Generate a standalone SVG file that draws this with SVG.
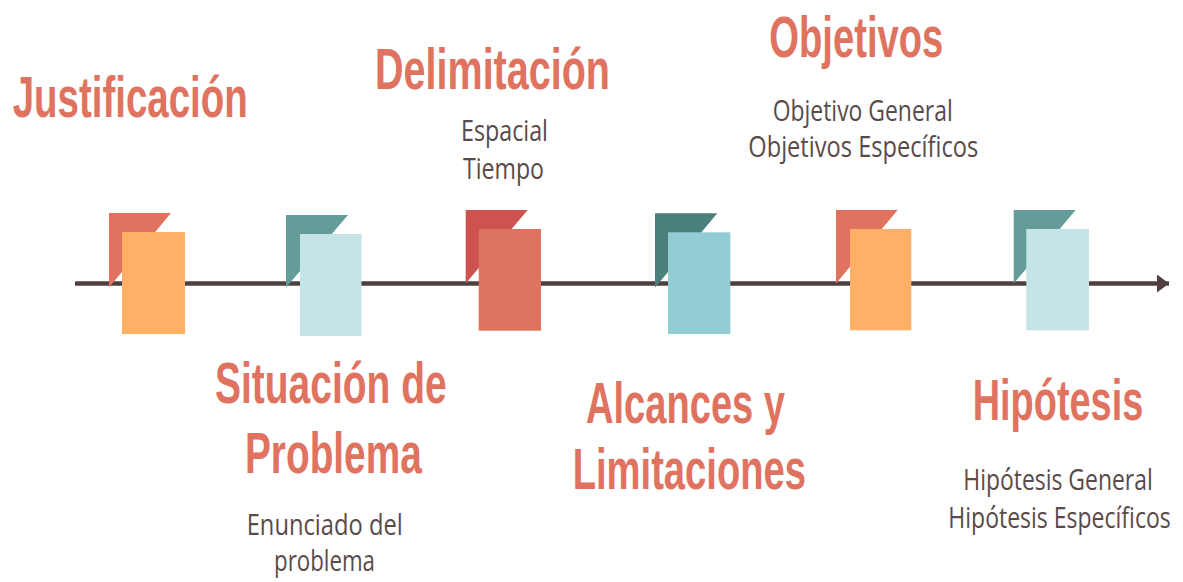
<svg xmlns="http://www.w3.org/2000/svg" width="1183" height="582" viewBox="0 0 1183 582">
<defs>
<style>
.title{font-family:"Liberation Sans",Arial,sans-serif;font-weight:700;font-size:57px;fill:#E07260}
.sub{font-family:"Open Sans","Liberation Sans",sans-serif;font-weight:400;font-size:29px;fill:#5A4A4A}
.line{stroke:#503F3F;stroke-width:4.5;fill:none}
.c1f{fill:#E07260}.c1r{fill:#FFB066}
.c2f{fill:#639C99}.c2r{fill:#C4E4E8}
.c3f{fill:#CD5250}.c3r{fill:#DE735F}
.c4f{fill:#4A7F7C}.c4r{fill:#93CDD4}
</style>
<marker id="arrow" markerUnits="userSpaceOnUse" markerWidth="14" markerHeight="20" refX="12" refY="9" orient="auto">
<polygon points="0,0 12,9 0,18" fill="#503F3F"/>
</marker>
</defs>
<rect width="1183" height="582" fill="#FFFFFF"/>
<g id="connectors">
<line class="line" x1="75" y1="283.5" x2="1169" y2="283.5" marker-end="url(#arrow)"/>
</g>
<g id="node-justificacion">
<polygon class="c1f" points="109,213 171,213 109,287.5"/>
<rect class="c1r" x="122" y="232" width="63" height="102"/>
<text class="title" x="12.7" y="117" textLength="235" lengthAdjust="spacingAndGlyphs">Justificación</text>
</g>
<g id="node-situacion">
<polygon class="c2f" points="286,215 348,215 286,287.5"/>
<rect class="c2r" x="300" y="234" width="61.5" height="102"/>
<text class="title" x="215" y="403.3" textLength="231.7" lengthAdjust="spacingAndGlyphs">Situación de</text>
<text class="title" x="245" y="472.7" textLength="176.7" lengthAdjust="spacingAndGlyphs">Problema</text>
<text class="sub" x="246.7" y="535.3" textLength="156" lengthAdjust="spacingAndGlyphs">Enunciado del</text>
<text class="sub" x="274" y="571" textLength="101" lengthAdjust="spacingAndGlyphs">problema</text>
</g>
<g id="node-delimitacion">
<polygon class="c3f" points="465.7,210 527.7,210 465.7,283.5"/>
<rect class="c3r" x="478.7" y="229" width="62.3" height="101.7"/>
<text class="title" x="375" y="89" textLength="235" lengthAdjust="spacingAndGlyphs">Delimitación</text>
<text class="sub" x="461" y="141" textLength="87" lengthAdjust="spacingAndGlyphs">Espacial</text>
<text class="sub" x="463" y="178.5" textLength="81" lengthAdjust="spacingAndGlyphs">Tiempo</text>
</g>
<g id="node-alcances">
<polygon class="c4f" points="655,213.3 717.3,213.3 655,287.5"/>
<rect class="c4r" x="668" y="232.3" width="62.3" height="101.7"/>
<text class="title" x="586" y="423.3" textLength="199" lengthAdjust="spacingAndGlyphs">Alcances y</text>
<text class="title" x="572.7" y="489.3" textLength="233.3" lengthAdjust="spacingAndGlyphs">Limitaciones</text>
</g>
<g id="node-objetivos">
<polygon class="c1f" points="836,210 897.7,210 836,283.5"/>
<rect class="c1r" x="850" y="229" width="61.3" height="101.3"/>
<text class="title" x="769.3" y="56.5" textLength="174" lengthAdjust="spacingAndGlyphs">Objetivos</text>
<text class="sub" x="772.7" y="120.7" textLength="180" lengthAdjust="spacingAndGlyphs">Objetivo General</text>
<text class="sub" x="748.3" y="156.5" textLength="230" lengthAdjust="spacingAndGlyphs">Objetivos Específicos</text>
</g>
<g id="node-hipotesis">
<polygon class="c2f" points="1013.7,210 1075.7,210 1013.7,283.5"/>
<rect class="c2r" x="1026.3" y="229" width="62.7" height="101.3"/>
<text class="title" x="0" y="0" transform="translate(972.7,420) scale(0.665,1)" textLength="256.5" lengthAdjust="spacingAndGlyphs">Hipótesis</text>
<text class="sub" x="0" y="0" transform="translate(963.3,490) scale(0.791,1)" textLength="239.4" lengthAdjust="spacingAndGlyphs">Hipótesis General</text>
<text class="sub" x="0" y="0" transform="translate(948.3,528.3) scale(0.791,1)" textLength="281.2" lengthAdjust="spacingAndGlyphs">Hipótesis Específicos</text>
</g>
</svg>
